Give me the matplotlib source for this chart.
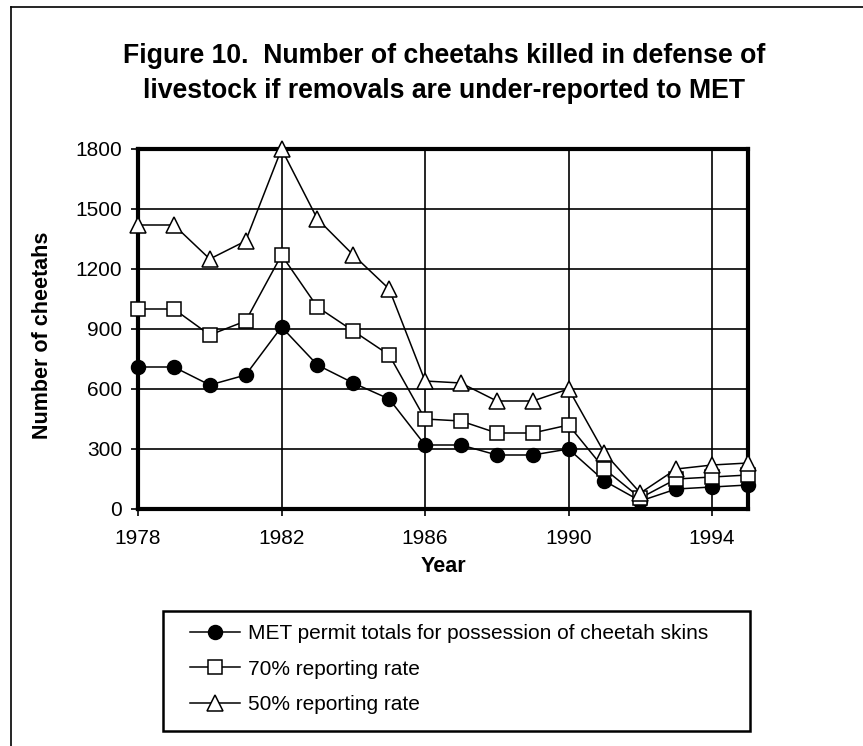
import matplotlib
matplotlib.use('Agg')
import matplotlib.pyplot as plt
from matplotlib.lines import Line2D
from matplotlib.patches import Rectangle

plt.rcParams['font.family'] = ['Liberation Sans', 'DejaVu Sans']

# data
years = list(range(1978, 1996))
met_permits = [710, 710, 620, 670, 910, 720, 630, 550, 320, 320,
               270, 270, 300, 140, 40, 100, 110, 120]
rate_70 = [1000, 1000, 870, 940, 1270, 1010, 890, 770, 450, 440,
           380, 380, 420, 200, 55, 150, 160, 170]
rate_50 = [1420, 1420, 1250, 1340, 1800, 1450, 1270, 1100, 640, 630,
           540, 540, 600, 280, 80, 200, 220, 230]
labels = ['MET permit totals for possession of cheetah skins',
          '70% reporting rate',
          '50% reporting rate']
xticks = [1978, 1982, 1986, 1990, 1994]
yticks = [0, 300, 600, 900, 1200, 1500, 1800]

W, H = 863, 746
fig = plt.figure(figsize=(W / 100, H / 100), dpi=100)

# outer frame (left and top only visible)
fig.add_artist(Line2D([10.5 / W, 10.5 / W], [0, 1 - 7 / H], color='black', lw=1.2))
fig.add_artist(Line2D([10.5 / W, 1], [1 - 7 / H, 1 - 7 / H], color='black', lw=1.2))

left, right, top, bottom = 138, 748, 149, 509
ax = fig.add_axes([left / W, 1 - bottom / H, (right - left) / W, (bottom - top) / H])

styles = [dict(marker='o', mfc='black', ms=10),
          dict(marker='s', mfc='white', ms=9.5),
          dict(marker='^', mfc='white', ms=11)]
handles = []
for vals, st, lab in zip([met_permits, rate_70, rate_50], styles, labels):
    h, = ax.plot(years, vals, color='black', lw=1.1, mec='black', mew=1.1,
                 label=lab, clip_on=False, zorder=3, **st)
    handles.append(h)

ax.set_xlim(1978, 1995)
ax.set_ylim(0, 1800)
ax.set_xticks(xticks)
ax.set_yticks(yticks)
ax.grid(True, color='black', lw=1.2)
ax.set_axisbelow(True)
for s in ax.spines.values():
    s.set_linewidth(3)
ax.tick_params(direction='out', length=5, width=1.2, labelsize=15)
ax.tick_params(axis='y', pad=6.5)
ax.tick_params(axis='x', pad=9.5)

fig.text(443 / W, 1 - 566 / H, 'Year', ha='center', va='center',
         fontsize=15.5, fontweight='bold')
fig.text(42 / W, 1 - 335 / H, 'Number of cheetahs', ha='center', va='center',
         rotation=90, fontsize=15.5, fontweight='bold')

fig.text(444 / W, 1 - 63 / H, 'Figure 10.  Number of cheetahs killed in defense of',
         ha='center', va='baseline', fontsize=19.2, fontweight='bold')
fig.text(444 / W, 1 - 98 / H, 'livestock if removals are under-reported to MET',
         ha='center', va='baseline', fontsize=19.2, fontweight='bold')

# legend box
lx0, ly0, lx1, ly1 = 163, 611, 750, 731
fig.add_artist(Rectangle((lx0 / W, 1 - ly1 / H), (lx1 - lx0) / W, (ly1 - ly0) / H,
                         transform=fig.transFigure, fill=False, ec='black', lw=1.8))
fig.legend(handles=handles, loc='upper left', bbox_to_anchor=(190 / W, 1 - 624 / H),
           frameon=False, fontsize=15, handlelength=2.4, handletextpad=0.4,
           labelspacing=0.8, borderpad=0, borderaxespad=0)

fig.savefig('out.png', dpi=100)
